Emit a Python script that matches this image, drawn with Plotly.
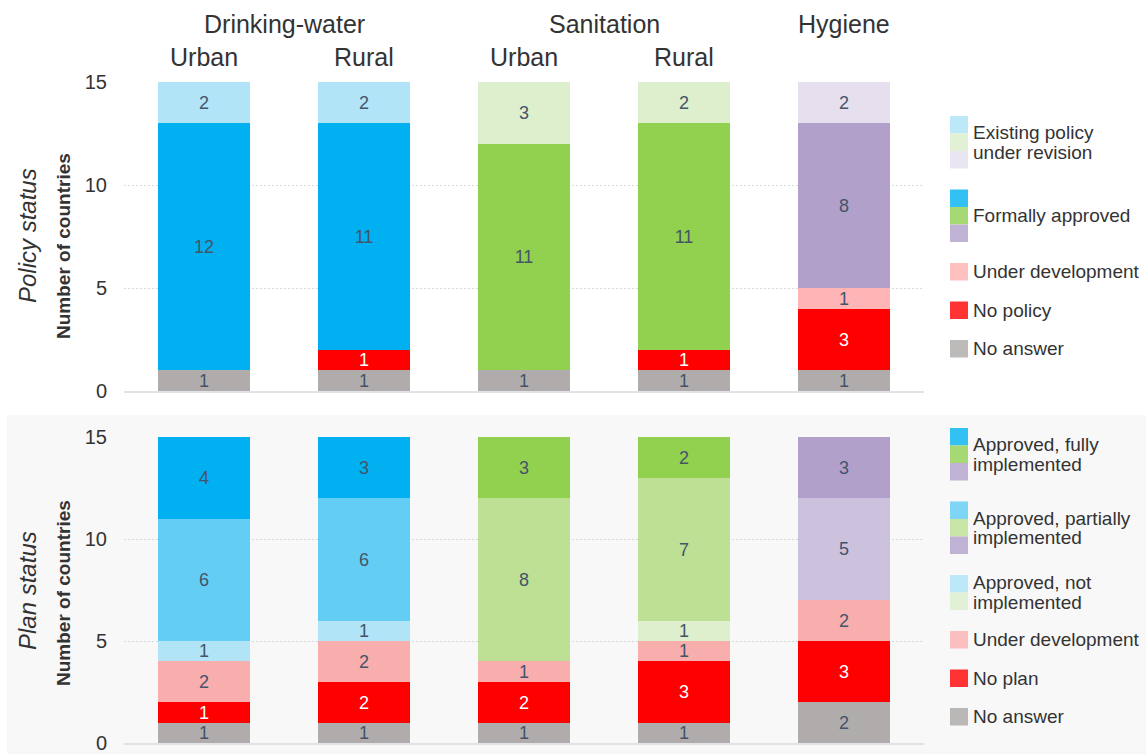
import plotly.graph_objects as go

# ---- data -------------------------------------------------------------
groups = ["Drinking-water", "Sanitation", "Hygiene"]
bar_names = ["Urban", "Rural", "Urban", "Rural", ""]
bar_sector = ["dw", "dw", "san", "san", "hyg"]

policy_no_answer = [1, 1, 1, 1, 1]
policy_none = [0, 1, 0, 1, 3]
policy_under_dev = [0, 0, 0, 0, 1]
policy_approved = [12, 11, 11, 11, 8]
policy_revision = [2, 2, 3, 2, 2]

plan_no_answer = [1, 1, 1, 1, 2]
plan_none = [1, 2, 2, 3, 3]
plan_under_dev = [2, 2, 1, 1, 2]
plan_not_impl = [1, 1, 0, 1, 0]
plan_partial = [6, 6, 8, 7, 5]
plan_full = [4, 3, 3, 2, 3]

y_ticks = [0, 5, 10, 15]

# ---- colours -----------------------------------------------------------
C_NA = "#b0acab"
C_NONE = "#ff0000"
C_UD_TOP = "#ffb5b5"
C_UD_BOT = "#f9aeae"
sector_colors = {
    "full": {"dw": "#00b0f0", "san": "#92d050", "hyg": "#b1a0ca"},
    "partial": {"dw": "#63cdf4", "san": "#bde095", "hyg": "#cdc2dd"},
    "light": {"dw": "#b0e4f6", "san": "#ddefcc", "hyg": "#e6e0ee"},
}

TEXT = "#333333"
LABEL = "#44546a"
FONT = "Arial, Liberation Sans, sans-serif"
W, H = 1146, 754

x_pos = list(range(len(bar_names)))


def px(x):
    return x / W


def py(y):
    return 1 - y / H


def seg(values, colors, name, yaxis, white=False):
    return go.Bar(
        x=x_pos, y=values, name=name, yaxis=yaxis,
        xaxis="x" if yaxis == "y" else "x2",
        width=0.575,
        marker=dict(color=colors, line=dict(width=0)),
        text=[str(v) if v else "" for v in values],
        textposition="inside", insidetextanchor="middle",
        textangle=0, constraintext="none",
        textfont=dict(family=FONT, size=18, color="white" if white else LABEL),
        hoverinfo="skip", showlegend=False,
    )


fig = go.Figure()

# policy panel (top)
fig.add_trace(seg(policy_no_answer, C_NA, "No answer", "y"))
fig.add_trace(seg(policy_none, C_NONE, "No policy", "y", white=True))
fig.add_trace(seg(policy_under_dev, C_UD_TOP, "Under development", "y"))
fig.add_trace(seg(policy_approved, [sector_colors["full"][s] for s in bar_sector],
                  "Formally approved", "y"))
fig.add_trace(seg(policy_revision, [sector_colors["light"][s] for s in bar_sector],
                  "Existing policy under revision", "y"))

# plan panel (bottom)
fig.add_trace(seg(plan_no_answer, C_NA, "No answer", "y2"))
fig.add_trace(seg(plan_none, C_NONE, "No plan", "y2", white=True))
fig.add_trace(seg(plan_under_dev, C_UD_BOT, "Under development", "y2"))
fig.add_trace(seg(plan_not_impl, [sector_colors["light"][s] for s in bar_sector],
                  "Approved, not implemented", "y2"))
fig.add_trace(seg(plan_partial, [sector_colors["partial"][s] for s in bar_sector],
                  "Approved, partially implemented", "y2"))
fig.add_trace(seg(plan_full, [sector_colors["full"][s] for s in bar_sector],
                  "Approved, fully implemented", "y2"))

x_dom = [px(124), px(924)]
xaxis_common = dict(domain=x_dom, range=[-0.5, len(bar_names) - 0.5],
                    showticklabels=False, showgrid=False, zeroline=False,
                    showline=True, linecolor="#dfe3e8", linewidth=2,
                    automargin=False, fixedrange=True)
yaxis_common = dict(range=[0, 15], tickvals=y_ticks, showgrid=True,
                    gridcolor="#d6d9dd", griddash="2px,2px", gridwidth=1,
                    zeroline=False, showline=False, automargin=False,
                    tickfont=dict(family=FONT, size=20, color=TEXT),
                    ticklabelstandoff=16, ticklabeloverflow="allow",
                    fixedrange=True)

fig.update_layout(
    width=W, height=H, autosize=False,
    margin=dict(l=0, r=0, t=0, b=0, pad=0),
    paper_bgcolor="white", plot_bgcolor="rgba(0,0,0,0)",
    barmode="stack", bargap=0,
    uniformtext=dict(minsize=18, mode="show"),
    xaxis=dict(**xaxis_common, anchor="y"),
    xaxis2=dict(**xaxis_common, anchor="y2"),
    yaxis=dict(**yaxis_common, domain=[py(391), py(82)], anchor="x"),
    yaxis2=dict(**yaxis_common, domain=[py(743), py(437)], anchor="x2"),
    font=dict(family=FONT, color=TEXT),
)

shapes = [dict(type="rect", xref="paper", yref="paper", layer="below",
               x0=px(7), x1=1, y0=0, y1=py(415),
               fillcolor="#f8f8f8", line=dict(width=0))]
annotations = []

# column headers
header_x = [0.5, 2.5, 4]
for name, xc in zip(groups, header_x):
    annotations.append(dict(x=xc, y=py(24), xref="x", yref="paper", text=name,
                            showarrow=False, xanchor="center", yanchor="middle",
                            font=dict(family=FONT, size=25, color=TEXT)))
for xi, name in zip(x_pos, bar_names):
    if name:
        annotations.append(dict(x=xi, y=py(57), xref="x", yref="paper", text=name,
                                showarrow=False, xanchor="center", yanchor="middle",
                                font=dict(family=FONT, size=25, color=TEXT)))

# panel titles
for title, yc, yc2 in [("Policy status", 236, 246), ("Plan status", 591, 593)]:
    annotations.append(dict(x=px(27), y=py(yc), xref="paper", yref="paper",
                            text=f"<i>{title}</i>", textangle=-90, showarrow=False,
                            xanchor="center", yanchor="middle",
                            font=dict(family=FONT, size=24, color=TEXT)))
    annotations.append(dict(x=px(63), y=py(yc2), xref="paper", yref="paper",
                            text="<b>Number of countries</b>", textangle=-90,
                            showarrow=False, xanchor="center", yanchor="middle",
                            font=dict(family=FONT, size=19, color=TEXT)))

# legends
legend_policy = [
    (["Existing policy", "under revision"],
     ["#bde8f7", "#e2f0d6", "#e8e4f0"]),
    (["Formally approved"], ["#33c1f3", "#a6d873", "#c0b2d4"]),
    (["Under development"], ["#ffc0c0"]),
    (["No policy"], ["#ff3333"]),
    (["No answer"], ["#bdbbba"]),
]
legend_plan = [
    (["Approved, fully", "implemented"], ["#33c1f3", "#a6d873", "#c0b2d4"]),
    (["Approved, partially", "implemented"], ["#7fd5f5", "#c8e5a8", "#c0b2d4"]),
    (["Approved, not", "implemented"], ["#bde8f7", "#e2f0d6"]),
    (["Under development"], ["#fbbfbf"]),
    (["No plan"], ["#ff3333"]),
    (["No answer"], ["#bab8b7"]),
]

SW_H = 17.5
GAP = 21


def draw_legend(items, top):
    y = top
    for lines, cols in items:
        for i, c in enumerate(cols):
            shapes.append(dict(type="rect", xref="paper", yref="paper",
                               x0=px(950), x1=px(968),
                               y0=py(y + (i + 1) * SW_H), y1=py(y + i * SW_H),
                               fillcolor=c, line=dict(width=0)))
        block = len(cols) * SW_H
        mid = y + block / 2
        n = len(lines)
        for j, line in enumerate(lines):
            ty = mid + (j - (n - 1) / 2) * 19.5
            annotations.append(dict(x=px(971), y=py(ty), xref="paper", yref="paper",
                                    text=line, showarrow=False, xanchor="left",
                                    yanchor="middle",
                                    font=dict(family=FONT, size=19, color=TEXT)))
        y += block + GAP


draw_legend(legend_policy, 116)
draw_legend(legend_plan, 428)

fig.update_layout(shapes=shapes, annotations=annotations)

fig.write_html("out.html", config={"displayModeBar": False})
